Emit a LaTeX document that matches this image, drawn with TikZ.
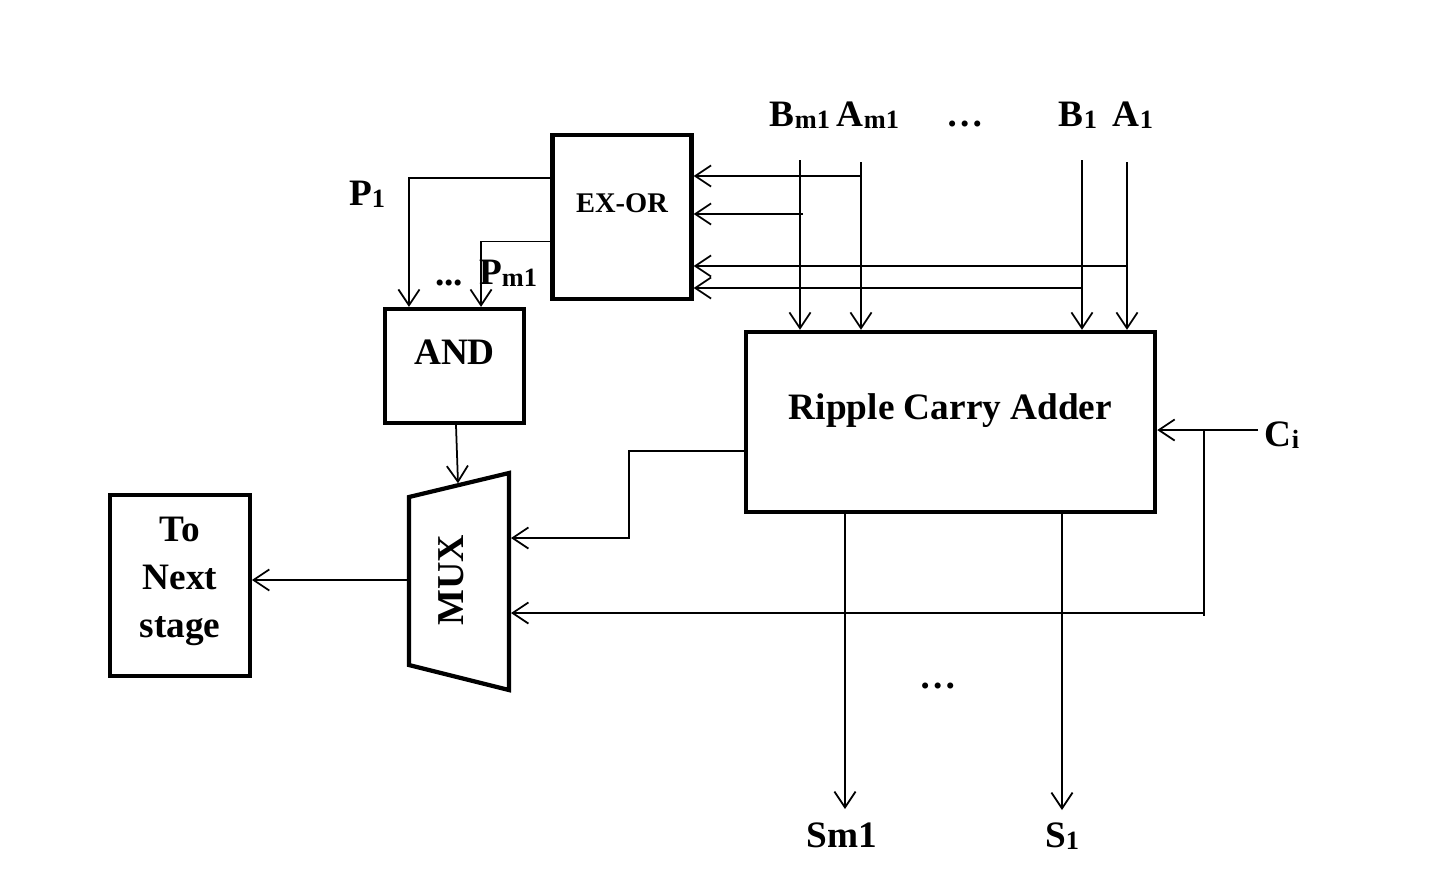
\documentclass[tikz,border=0pt]{standalone}
\usepackage{fontspec}
\setmainfont{Liberation Serif}
\usetikzlibrary{arrows.meta, positioning, calc}
\newcommand\lowidx[1]{\raisebox{-0.7pt}{\fontsize{7.5}{8}\selectfont #1}}

\begin{document}
\begin{tikzpicture}[
        x=0.01cm, y=-0.01cm,
        block/.style={draw, line width=1.2pt, inner sep=0pt},
        title/.style={font=\bfseries\fontsize{10.6}{13.7}\selectfont, align=center, inner sep=0pt},
        pin/.style={font=\bfseries\fontsize{10.6}{12}\selectfont, inner sep=0pt, anchor=base},
        wire/.style={line width=0.5pt},
        arrow/.style={wire, -{Straight Barb[length=4.5pt, width=6pt]}},
    ]
    \useasboundingbox (0,0) rectangle (1429,887);

    % blocks
    \node[block, minimum width=1.39cm, minimum height=1.64cm,
          label={[title, font=\bfseries\fontsize{8.1}{10}\selectfont, yshift=0.14cm]center:EX-OR}] (xor) at (622,217) {};
    \node[block, minimum width=1.39cm, minimum height=1.14cm,
          label={[title, yshift=0.14cm]center:AND}] (and) at (454.5,366) {};
    \node[block, minimum width=4.09cm, minimum height=1.80cm,
          label={[title, yshift=0.11cm]center:Ripple Carry Adder}] (rca) at (950.5,422) {};
    \node[block, minimum width=1.395cm, minimum height=1.81cm,
          label={[title, yshift=0.04cm]center:To\\Next\\stage}] (next) at (180,585.5) {};

    % multiplexer
    \coordinate (muxtl) at (409,497);
    \coordinate (muxtr) at (509,473);
    \coordinate (muxbr) at (509,690);
    \coordinate (muxbl) at (409,665);
    \draw[line width=1.2pt, line join=miter] (muxtl) -- (muxtr) -- (muxbr) -- (muxbl) -- cycle;
    \node[title, rotate=90, font=\bfseries\fontsize{10.8}{12}\selectfont] (mux) at (451,580) {MUX};
    \coordinate (muxin1) at (511,538);
    \coordinate (muxin2) at (511,613);
    \coordinate (muxout) at (408,580);

    % pin labels
    \node[pin] (bm1) at (800,126) {B\lowidx{m1}};
    \node[pin] (am1) at (868,126) {A\lowidx{m1}};
    \node[pin] (dotsin) at (965,126) {…};
    \node[pin] (b1) at (1078,126) {B\lowidx{1}};
    \node[pin] (a1) at (1133,126) {A\lowidx{1}};
    \node[pin] (p1) at (367,205) {P\lowidx{1}};
    \node[pin] (dotsp) at (449,285) {...};
    \node[pin] (pm1) at (508,284) {P\lowidx{m1}};
    \node[pin] (ci) at (1282,446) {C\lowidx{i}};
    \node[pin] (sm1) at (842,847) {Sm1};
    \node[pin] (s1) at (1062,847) {S\lowidx{1}};
    \node[pin] (dotsout) at (938,688) {…};

    % operand inputs
    \coordinate (bm1in) at (800,160);
    \coordinate (am1in) at (861,162);
    \coordinate (b1in) at (1082,160);
    \coordinate (a1in) at (1127,162);
    \foreach \p in {bm1in, am1in, b1in, a1in}
        \draw[arrow] (\p) -- (\p |- rca.north);

    % taps into EX-OR
    \coordinate (tapam1) at (861,176);
    \coordinate (tapbm1) at (803,214);
    \coordinate (tapa1) at (1127,266);
    \coordinate (tapb1) at (1082,288);
    \foreach \t in {tapam1, tapbm1, tapa1, tapb1}
        \draw[arrow] (\t) -- (\t -| xor.east);

    % EX-OR to AND
    \draw[arrow] ([yshift=0.39cm]xor.west) -| ([xshift=-0.455cm]and.north);
    \draw[arrow] ([yshift=-0.245cm]xor.west) -| ([xshift=0.265cm]and.north);

    % AND to MUX
    \draw[arrow] ([xshift=0.015cm]and.south) -- ($(muxtl)!0.49!(muxtr)+(0,-2)$);

    % adder to MUX
    \draw[arrow] (rca.west |- 0,451) -- ++(-115,0) |- (muxin1);

    % carry in
    \coordinate (ciin) at (1258,430);
    \coordinate (cibr) at (1204,430);
    \draw[arrow] (ciin) -- (ciin -| rca.east);
    \draw[wire] (cibr) -- ++(0,186);
    \draw[arrow] (cibr |- muxin2) -- (muxin2);

    % MUX to next stage
    \draw[arrow] (muxout) -- (next.east |- muxout);

    % sum outputs
    \coordinate (sm1end) at (845,809);
    \coordinate (s1end) at (1062,810);
    \draw[arrow] (sm1end |- rca.south) -- (sm1end);
    \draw[arrow] (s1end |- rca.south) -- (s1end);
\end{tikzpicture}
\end{document}
